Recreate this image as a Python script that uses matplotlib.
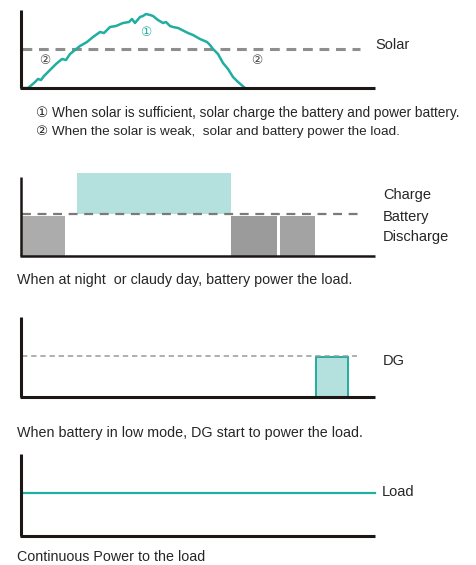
# working modes of the hybrid inverter: solar / battery / DG / load
# four small panels drawn in pixel-like units, one per mode

import matplotlib
matplotlib.use("Agg")
import matplotlib.pyplot as plt

W, H = 477, 565
TEAL = "#1fae9f"
LIGHT_TEAL = "#b4e1dd"
DASH = "#8e8e8e"
INK = "#1c1715"
TXT = "#262626"

plt.rcParams["font.family"] = ["Liberation Sans", "DejaVu Sans"]

# panel 1 - solar power over the day
solar_x = [22, 28, 34, 38, 41, 44, 50, 56, 62, 66, 70, 75, 80, 87, 93, 100, 104, 110, 116,
           123, 129, 132, 135, 140, 143, 146, 150, 153, 158, 163, 166, 170, 173, 178, 182,
           188, 193, 200, 207, 210, 213, 218, 223, 228, 233, 238, 245]
solar_y = [0, 0, 5, 9, 8, 12, 18, 24, 29, 28, 34, 38, 42, 46, 51, 56, 55, 61, 62,
           65, 66, 69, 65, 71, 72, 74, 73, 72, 68, 65, 66, 62, 61, 60, 58,
           55, 53, 49, 46, 43, 39, 34, 25, 19, 11, 6, 0]
solar_level = 39

# panel 2 - battery charge / discharge
charge_start, charge_end, charge_top = 77, 231, 83
discharge_start = [22, 231, 280]
discharge_end = [66, 278, 316]
discharge_top = [40, 40, 40]
discharge_color = ["#acacac", "#9b9b9b", "#a3a3a3"]
battery_level = 42

# panel 3 - DG kicks in
dg_start, dg_end, dg_top = 316, 348, 40
dg_level = 41

# panel 4 - load
load_level = 43


def panel(base, height):
    ax = fig.add_axes([0, 1 - base / H, 1, height / H])
    ax.set_xlim(0, W)
    ax.set_ylim(0, height)
    ax.axis("off")
    return ax


def axes_lines(ax, top, lw=2.2):
    ax.plot([21, 21], [0, top], color=INK, lw=lw, solid_capstyle="butt", clip_on=False)
    ax.plot([20, 375], [0, 0], color=INK, lw=lw, solid_capstyle="butt", clip_on=False)


def fig_text(x, y, s, size=10.3, color=TXT, **kw):
    fig.text(x / W, 1 - y / H, s, fontsize=size, color=color, va="center", ha="left", **kw)


fig = plt.figure(figsize=(W / 100, H / 100), dpi=100)

# ---- panel 1
ax1 = panel(88, 78)
ax1.plot([22, 360], [solar_level, solar_level], color=DASH, lw=2.2, dashes=(3.2, 2.2))
ax1.plot(solar_x, solar_y, color=TEAL, lw=1.8, solid_joinstyle="round", clip_on=False)
axes_lines(ax1, 78)
ax1.text(375, 43, "Solar", fontsize=10.5, color=TXT, va="center")
ax1.text(146, 55, "①", fontsize=9, color=TEAL, ha="center", va="center",
         family=["DejaVu Sans"])
ax1.text(45, 28, "②", fontsize=9, color="#444444", ha="center", va="center",
         family=["DejaVu Sans"])
ax1.text(257, 28, "②", fontsize=9, color="#444444", ha="center", va="center",
         family=["DejaVu Sans"])
fig_text(36, 113, "① When solar is sufficient, solar charge the battery and power battery.",
         size=9.85)
fig_text(36, 132, "② When the solar is weak,  solar and battery power the load.", size=9.7)

# ---- panel 2
ax2 = panel(256, 83)
ax2.bar([charge_start], [charge_top - battery_level], width=charge_end - charge_start,
        bottom=battery_level, align="edge", color=LIGHT_TEAL, lw=0)
for s, e, t, c in zip(discharge_start, discharge_end, discharge_top, discharge_color):
    ax2.bar([s], [t], width=e - s - 1, align="edge", color=c, lw=0)
ax2.plot([22, 360], [battery_level, battery_level], color="#7a7a7a", lw=1.6, dashes=(4, 3))
axes_lines(ax2, 79, lw=1.8)
ax2.text(383, 61, "Charge", fontsize=10.5, color=TXT, va="center")
ax2.text(383, 39, "Battery", fontsize=10.5, color=TXT, va="center")
ax2.text(383, 19, "Discharge", fontsize=10.5, color=TXT, va="center")
fig_text(17, 280, "When at night  or claudy day, battery power the load.")

# ---- panel 3
ax3 = panel(397, 80)
ax3.plot([22, 357], [dg_level, dg_level], color="#9a9a9a", lw=1.1, dashes=(3.5, 2.5))
ax3.bar([dg_start], [dg_top], width=dg_end - dg_start, align="edge",
        color=LIGHT_TEAL, edgecolor=TEAL, lw=1.4)
axes_lines(ax3, 80)
ax3.text(383, 36, "DG", fontsize=10.5, color=TXT, va="center")
fig_text(17, 433, "When battery in low mode, DG start to power the load.")

# ---- panel 4
ax4 = panel(536, 82)
ax4.plot([22, 375], [load_level, load_level], color=TEAL, lw=1.6)
axes_lines(ax4, 82)
ax4.text(382, 44, "Load", fontsize=10.5, color=TXT, va="center")
fig_text(17, 557, "Continuous Power to the load")

fig.savefig("out.png", dpi=100, facecolor="white")
